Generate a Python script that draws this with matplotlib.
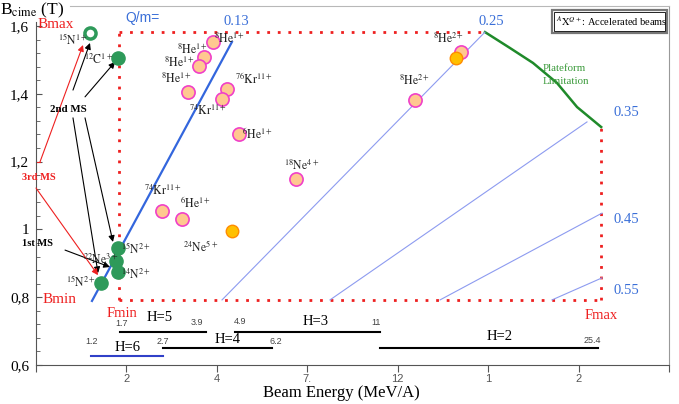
import matplotlib
matplotlib.use("Agg")
import matplotlib.pyplot as plt
from matplotlib.patches import Rectangle
import numpy as np

plt.rcParams['font.family'] = ['Liberation Serif', 'DejaVu Serif']
plt.rcParams['mathtext.fontset'] = 'stix'

# ---------------- data ----------------
x_tick_pos = [0, 1, 2, 3, 4, 5, 6, 7]
x_tick_labels = ['', '2', '4', '7.', '12', '1', '2', '']
y_ticks = [0.6, 0.8, 1.0, 1.2, 1.4, 1.6]
y_tick_labels = ['0,6', '0,8', '1', '1,2', '1,4', '1,6']

# accelerated beams (orange, pink edge)
acc_x = [1.957, 1.858, 1.803, 1.681, 2.112, 2.057, 2.245, 2.875, 4.191, 4.700, 1.393, 1.615]
acc_y = [1.553, 1.509, 1.482, 1.405, 1.414, 1.385, 1.281, 1.149, 1.382, 1.523, 1.054, 1.031]
# solid orange beams
sol_x = [4.645, 2.167]
sol_y = [1.506, 0.995]
# stable beams (green)
stb_x = [0.907, 0.907, 0.885, 0.907, 0.719]
stb_y = [1.506, 0.945, 0.907, 0.874, 0.842]
# hollow green (15N1+)
hol_x = [0.597]
hol_y = [1.579]

# isotope labels: (A, symbol, charge, x, y, ha)
iso_labels = [
    ('15', 'N', '1+', 0.580, 1.560, 'right'),
    ('12', 'C', '1+', 0.697, 1.500, 'center'),
    ('8', 'He', '1+', 2.145, 1.562, 'center'),
    ('8', 'He', '1+', 1.736, 1.531, 'center'),
    ('8', 'He', '1+', 1.592, 1.490, 'center'),
    ('8', 'He', '1+', 1.559, 1.445, 'center'),
    ('76', 'Kr', '11+', 2.411, 1.444, 'center'),
    ('74', 'Kr', '11+', 1.902, 1.349, 'center'),
    ('6', 'He', '1+', 2.455, 1.284, 'center'),
    ('18', 'Ne', '4+', 2.941, 1.187, 'center'),
    ('8', 'He', '2+', 4.191, 1.438, 'center'),
    ('8', 'He', '2+', 4.567, 1.562, 'center'),
    ('74', 'Kr', '11+', 1.404, 1.113, 'center'),
    ('6', 'He', '1+', 1.769, 1.078, 'center'),
    ('24', 'Ne', '5+', 1.825, 0.951, 'center'),
    ('15', 'N', '2+', 1.106, 0.945, 'center'),
    ('22', 'Ne', '3+', 0.719, 0.910, 'center'),
    ('14', 'N', '2+', 1.106, 0.865, 'center'),
    ('15', 'N', '2+', 0.498, 0.845, 'center'),
]

# Q/m lines
qm_values = ['0.13', '0.25', '0.35', '0.45', '0.55']
qm_x0 = [0.619, 2.057, 3.251, 4.468, 5.706]
qm_y0 = [0.789, 0.792, 0.792, 0.792, 0.792]
qm_x1 = [2.167, 4.965, 6.093, 6.259, 6.259]
qm_y1 = [1.553, 1.582, 1.317, 1.048, 0.857]
qm_label_x = [2.068, 4.888, 6.381, 6.381, 6.381]
qm_label_y = [1.612, 1.612, 1.346, 1.028, 0.821]

# field limits
b_min, b_max = 0.792, 1.582
f_min, f_max = 0.918, 6.250
plat_x = [4.965, 5.242, 5.496, 5.761, 5.983, 6.250]
plat_y = [1.582, 1.535, 1.491, 1.432, 1.361, 1.302]

# harmonic ranges
harm_names = ['H=5', 'H=3', 'H=6', 'H=4', 'H=2']
harm_x0 = [0.929, 2.201, 0.608, 1.404, 3.804]
harm_x1 = [1.880, 3.804, 1.404, 2.610, 6.215]
harm_y = [0.697, 0.697, 0.627, 0.650, 0.650]
harm_lab_x = [1.371, 3.096, 1.017, 2.123, 5.131]
harm_lab_y = [0.739, 0.727, 0.653, 0.674, 0.683]
harm_colors = ['black', 'black', '#3040c8', 'black', 'black']
energy_vals = ['1.7', '3.9', '4.9', '11', '1.2', '2.7', '6.2', '25.4']
energy_x = [0.951, 1.780, 2.256, 3.760, 0.619, 1.404, 2.654, 6.148]
energy_y = [0.721, 0.725, 0.728, 0.725, 0.668, 0.668, 0.668, 0.671]

# MS arrows (start x, start y, end x, end y)
black_arrows = [
    (0.409, 1.411, 0.597, 1.550),
    (0.542, 1.391, 0.874, 1.494),
    (0.409, 1.329, 0.686, 0.871),
    (0.542, 1.329, 0.851, 0.963),
    (0.321, 0.939, 0.818, 0.889),
]
red_arrows = [
    (0.044, 1.199, 0.520, 1.544),
    (0.000, 1.122, 0.686, 0.865),
]

# ---------------- figure ----------------
fig = plt.figure(figsize=(6.79, 4.04), dpi=100)
ax = fig.add_axes([36/679, 39/404, 633/679, 359/404])
ax.set_xlim(0, 7)
ax.set_ylim(0.6, 0.6 + 359/339)

for s in ['left', 'bottom']:
    ax.spines[s].set_color('#555555')
ax.spines['left'].set_bounds(0.6, 1.612)
ax.spines['top'].set_color('#b8b8b8')
ax.spines['top'].set_bounds(0.376, 7)
ax.spines['right'].set_color('#999999')

ax.set_xticks(x_tick_pos)
ax.set_xticklabels(x_tick_labels, fontfamily='Liberation Sans', fontsize=8, color='#555555')
ax.tick_params(axis='x', direction='out', length=5, color='#555555', pad=1.5)
ax.set_yticks(y_ticks)
ax.set_yticklabels(y_tick_labels, fontsize=11)
ax.set_yticks(np.arange(0.6, 1.61, 0.04), minor=True)
ax.tick_params(axis='y', which='both', direction='in', length=4, color='#555555', pad=5)
ax.tick_params(axis='y', which='minor', length=3)

# red dotted frame
red = '#ee2020'
dot = dict(color=red, lw=2, linestyle=(0, (1, 2.8)))
ax.plot([f_min, qm_x1[1]], [b_max, b_max], **dot)
ax.plot([f_min, f_min], [b_min, b_max], **dot)
ax.plot([f_min, f_max], [b_min, b_min], **dot)
ax.plot([f_max, f_max], [b_min, plat_y[-1]], **dot)

# platform limitation curve
ax.plot(plat_x, plat_y, color='#1f8a2a', lw=1.8)
ax.text(5.607, 1.455, 'Plateform\nLimitation', color='#3a9a3a', fontsize=7.8,
        ha='left', va='center', linespacing=1.6)

# Q/m lines
for i in range(len(qm_values)):
    if i == 0:
        ax.plot([qm_x0[i], qm_x1[i]], [qm_y0[i], qm_y1[i]], color='#3366dd', lw=1.6)
    else:
        ax.plot([qm_x0[i], qm_x1[i]], [qm_y0[i], qm_y1[i]], color='#8d9bf0', lw=0.8)
    ax.text(qm_label_x[i], qm_label_y[i], qm_values[i], color='#3a6fd8', fontsize=10.5,
            ha='left', va='center')
ax.text(0.984, 1.624, 'Q/m=', color='#3a6fd8', fontsize=10, fontfamily='Liberation Sans',
        ha='left', va='center')

# harmonic ranges
for i in range(len(harm_names)):
    ax.plot([harm_x0[i], harm_x1[i]], [harm_y[i], harm_y[i]], color=harm_colors[i], lw=1.5)
    ax.text(harm_lab_x[i], harm_lab_y[i], harm_names[i], fontsize=10.5, ha='center', va='center')
for v, x, y in zip(energy_vals, energy_x, energy_y):
    ax.text(x, y, v, fontsize=6.5, fontfamily='Liberation Sans', color='#444444',
            ha='center', va='center')

# arrows
for x0, y0, x1, y1 in black_arrows:
    ax.annotate('', xy=(x1, y1), xytext=(x0, y0),
                arrowprops=dict(arrowstyle='-|>', color='black', lw=0.8,
                                mutation_scale=9, shrinkA=0, shrinkB=0), zorder=3)
ax.plot([0.0, 0.044], [1.199, 1.199], color=red, lw=0.8, clip_on=False)
for x0, y0, x1, y1 in red_arrows:
    ax.annotate('', xy=(x1, y1), xytext=(x0, y0),
                arrowprops=dict(arrowstyle='-|>', color=red, lw=0.8,
                                mutation_scale=9, shrinkA=0, shrinkB=0), zorder=3)

# points
ax.plot(acc_x, acc_y, 'o', ms=9.5, mfc='#ffc890', mec='#f040c8', mew=1.2, zorder=5, ls='none')
ax.plot(sol_x, sol_y, 'o', ms=9, mfc='#ffc000', mec='#ff8c00', mew=1.0, zorder=6, ls='none')
ax.plot(stb_x, stb_y, 'o', ms=9.5, mfc='#2e9a5a', mec='#2e9a5a', zorder=5, ls='none')
ax.plot(hol_x, hol_y, 'o', ms=8, mfc='white', mec='#2e9a5a', mew=2.5, zorder=5, ls='none')

# isotope labels
for A, sym, q, x, y, ha in iso_labels:
    ax.text(x, y, r'$^{%s}\mathrm{%s}^{%s}$' % (A, sym, q), fontsize=8.5,
            ha=ha, va='center', color='#222222', zorder=7)

# red annotation texts
ax.text(0.022, 1.603, 'Bmax', color=red, fontsize=11, ha='left', va='center')
ax.text(0.077, 0.792, 'Bmin', color=red, fontsize=11, ha='left', va='center')
ax.text(0.785, 0.752, 'Fmin', color=red, fontsize=10.5, ha='left', va='center')
ax.text(6.071, 0.747, 'Fmax', color=red, fontsize=10.5, ha='left', va='center')
ax.text(-0.155, 1.152, '3rd MS', color=red, fontsize=7.5, fontweight='bold',
        ha='left', va='center', clip_on=False)
ax.text(0.155, 1.355, '2nd MS', color='black', fontsize=7.8, fontweight='bold',
        ha='left', va='center')
ax.text(-0.155, 0.957, '1st MS', color='black', fontsize=7.5, fontweight='bold',
        ha='left', va='center', clip_on=False)

# legend box
ax.add_patch(Rectangle((0.815, 0.925), 0.182, 0.064, transform=ax.transAxes,
                       fill=False, ec='#777777', lw=1.6, zorder=8))
ax.add_patch(Rectangle((0.818, 0.930), 0.176, 0.054, transform=ax.transAxes,
                       fill=False, ec='black', lw=0.6, zorder=8))
ax.text(0.822, 0.957, r'$^{A}\mathrm{X}^{Q+}$: Accelerated beams', transform=ax.transAxes,
        fontsize=7.5, ha='left', va='center', zorder=9)

# axis titles
fig.text(0.0, 1 - 10/404, r'B$_{\mathrm{cime}}$ (T)', fontsize=12.5, ha='left', va='center')
fig.text(341/679, 1 - 393/404, 'Beam Energy (MeV/A)', fontsize=12, ha='center', va='center')

fig.savefig('out.png', dpi=100)
